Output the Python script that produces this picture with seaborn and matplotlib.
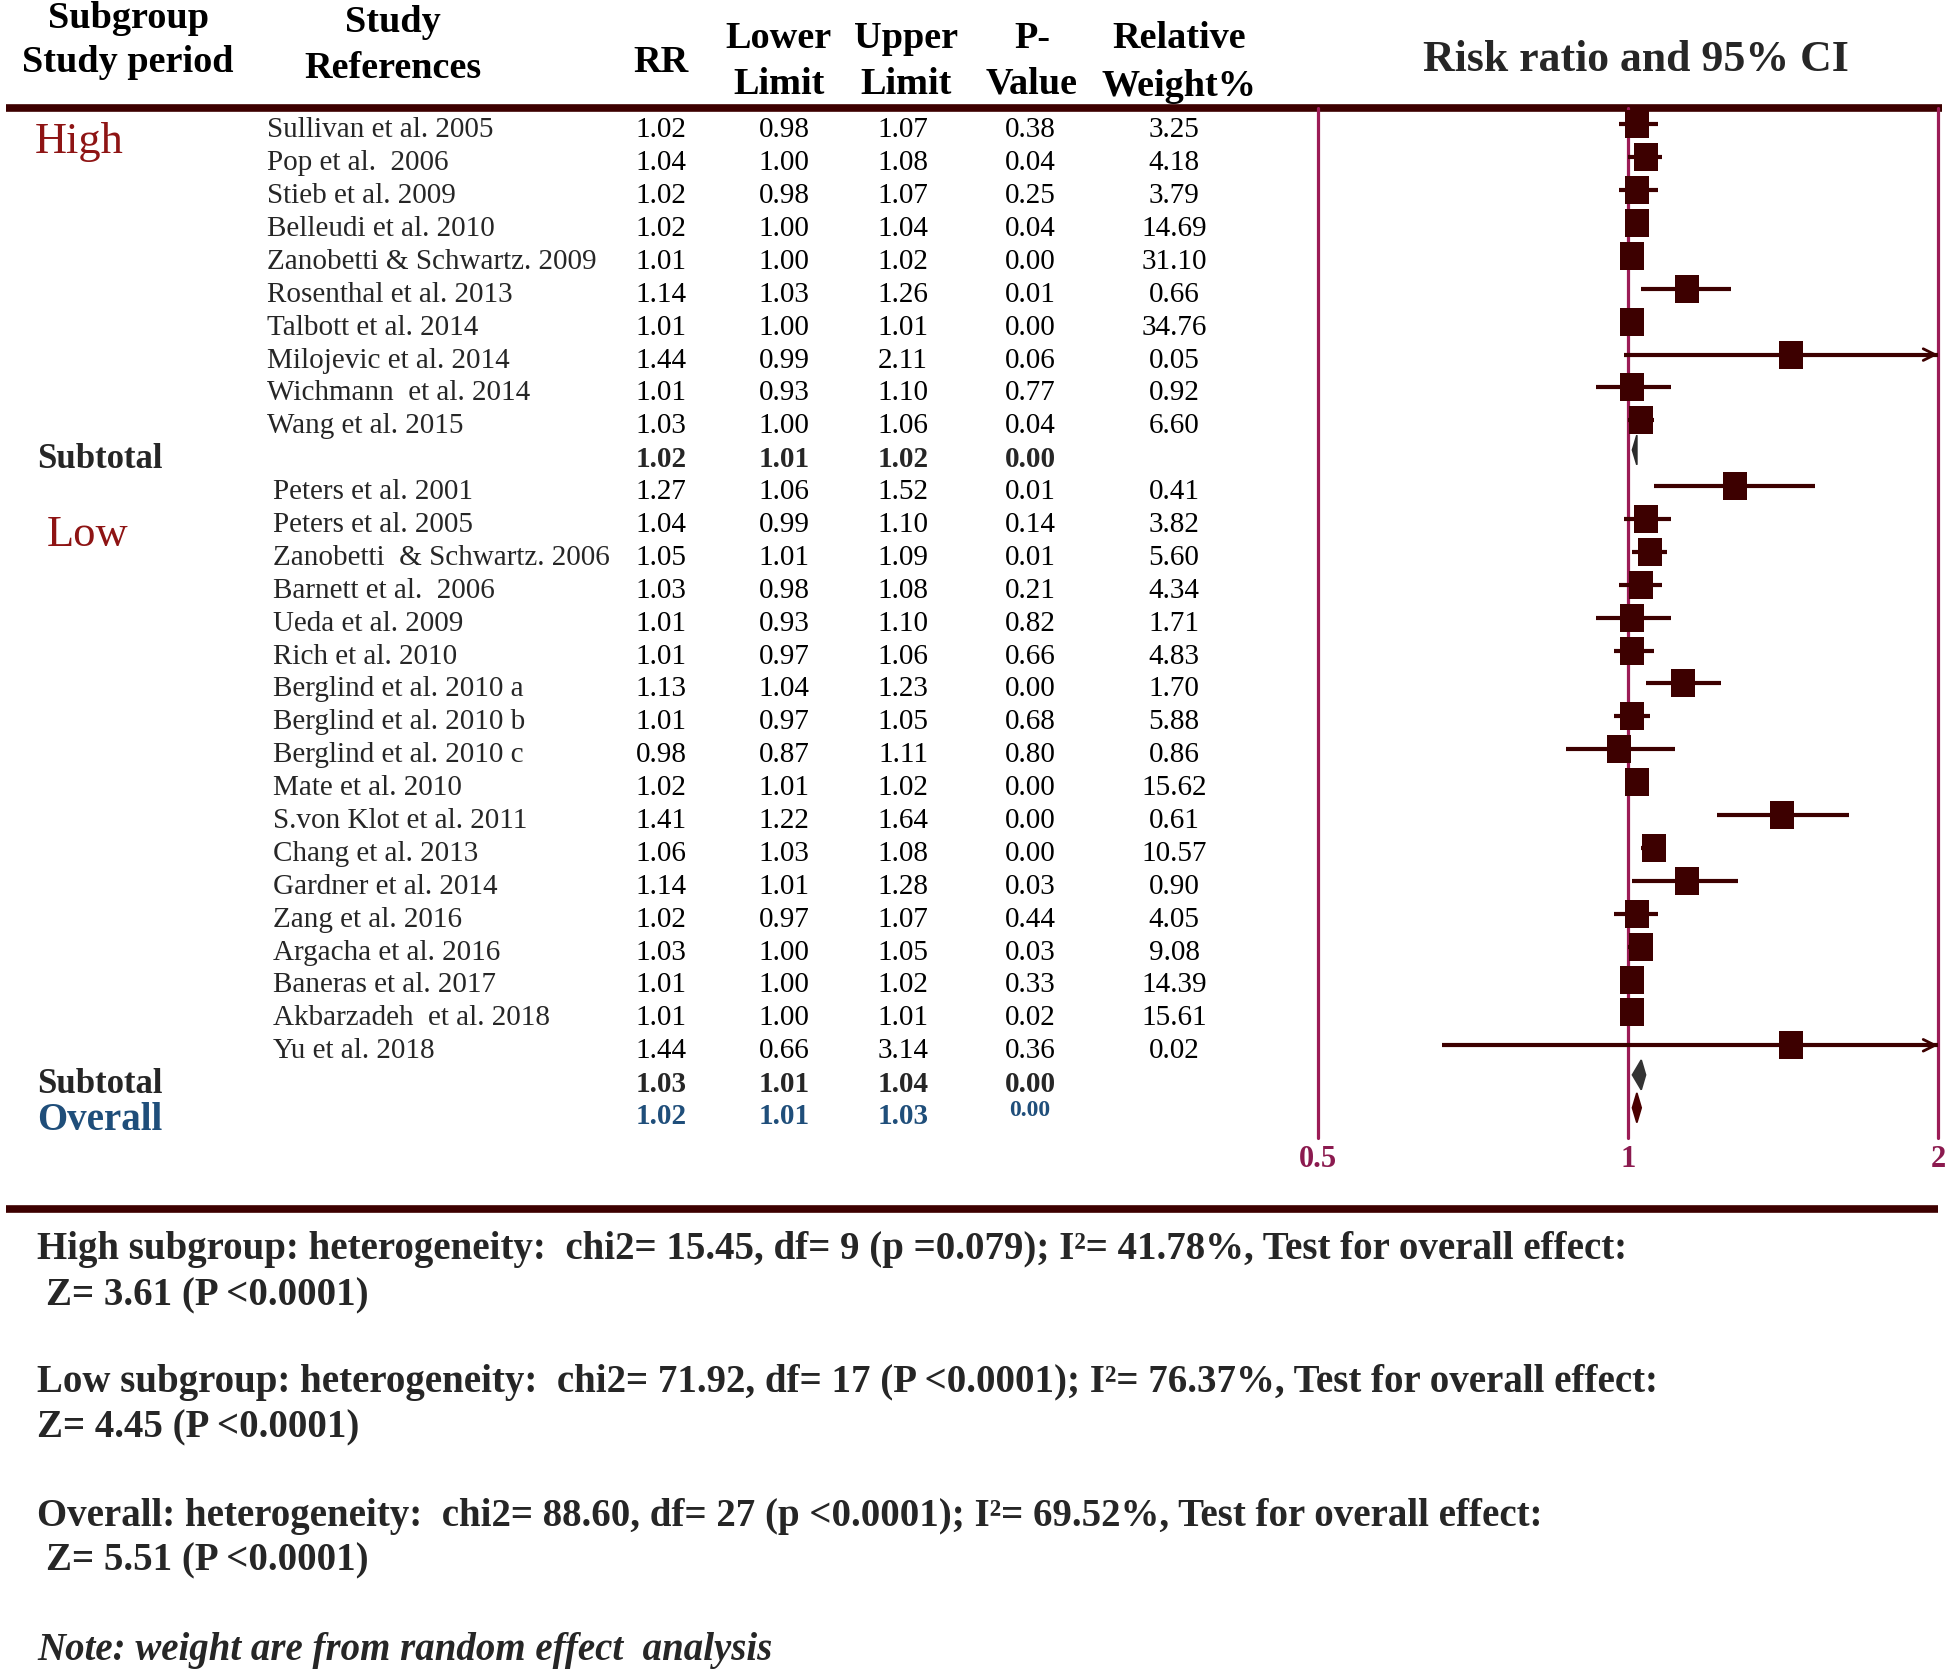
import numpy as np
import pandas as pd
import matplotlib
matplotlib.use("Agg")
import matplotlib.pyplot as plt
import seaborn as sns

# ---- values ----
high_refs = ["Sullivan et al. 2005", "Pop et al.  2006", "Stieb et al. 2009", "Belleudi et al. 2010",
             "Zanobetti & Schwartz. 2009", "Rosenthal et al. 2013", "Talbott et al. 2014",
             "Milojevic et al. 2014", "Wichmann  et al. 2014", "Wang et al. 2015"]
high_rr = [1.02, 1.04, 1.02, 1.02, 1.01, 1.14, 1.01, 1.44, 1.01, 1.03]
high_lo = [0.98, 1.00, 0.98, 1.00, 1.00, 1.03, 1.00, 0.99, 0.93, 1.00]
high_hi = [1.07, 1.08, 1.07, 1.04, 1.02, 1.26, 1.01, 2.11, 1.10, 1.06]
high_p = [0.38, 0.04, 0.25, 0.04, 0.00, 0.01, 0.00, 0.06, 0.77, 0.04]
high_w = [3.25, 4.18, 3.79, 14.69, 31.10, 0.66, 34.76, 0.05, 0.92, 6.60]

low_refs = ["Peters et al. 2001", "Peters et al. 2005", "Zanobetti  & Schwartz. 2006", "Barnett et al.  2006",
            "Ueda et al. 2009", "Rich et al. 2010", "Berglind et al. 2010 a", "Berglind et al. 2010 b",
            "Berglind et al. 2010 c", "Mate et al. 2010", "S.von Klot et al. 2011", "Chang et al. 2013",
            "Gardner et al. 2014", "Zang et al. 2016", "Argacha et al. 2016", "Baneras et al. 2017",
            "Akbarzadeh  et al. 2018", "Yu et al. 2018"]
low_rr = [1.27, 1.04, 1.05, 1.03, 1.01, 1.01, 1.13, 1.01, 0.98, 1.02, 1.41, 1.06, 1.14, 1.02, 1.03, 1.01, 1.01, 1.44]
low_lo = [1.06, 0.99, 1.01, 0.98, 0.93, 0.97, 1.04, 0.97, 0.87, 1.01, 1.22, 1.03, 1.01, 0.97, 1.00, 1.00, 1.00, 0.66]
low_hi = [1.52, 1.10, 1.09, 1.08, 1.10, 1.06, 1.23, 1.05, 1.11, 1.02, 1.64, 1.08, 1.28, 1.07, 1.05, 1.02, 1.01, 3.14]
low_p = [0.01, 0.14, 0.01, 0.21, 0.82, 0.66, 0.00, 0.68, 0.80, 0.00, 0.00, 0.00, 0.03, 0.44, 0.03, 0.33, 0.02, 0.36]
low_w = [0.41, 3.82, 5.60, 4.34, 1.71, 4.83, 1.70, 5.88, 0.86, 15.62, 0.61, 10.57, 0.90, 4.05, 9.08, 14.39, 15.61, 0.02]

# summary rows: rr, lower, upper, p
high_sub = [1.02, 1.01, 1.02, 0.00]
low_sub = [1.03, 1.01, 1.04, 0.00]
overall = [1.02, 1.01, 1.03, 0.00]

xticks = [0.5, 1, 2]
xtick_labels = ["0.5", "1", "2"]

notes = [
    ("High subgroup: heterogeneity:  chi2= 15.45, df= 9 (p =0.079); I²= 41.78%, Test for overall effect:", 37, 1250),
    ("Z= 3.61 (P <0.0001)", 46, 1296),
    ("Low subgroup: heterogeneity:  chi2= 71.92, df= 17 (P <0.0001); I²= 76.37%, Test for overall effect:", 37, 1383),
    ("Z= 4.45 (P <0.0001)", 37, 1428),
    ("Overall: heterogeneity:  chi2= 88.60, df= 27 (p <0.0001); I²= 69.52%, Test for overall effect:", 37, 1517),
    ("Z= 5.51 (P <0.0001)", 46, 1561),
]

# ---- table frame ----
high = pd.DataFrame({"ref": high_refs, "rr": high_rr, "lo": high_lo, "hi": high_hi, "p": high_p, "w": high_w})
high["row"] = np.arange(len(high))
low = pd.DataFrame({"ref": low_refs, "rr": low_rr, "lo": low_lo, "hi": low_hi, "p": low_p, "w": low_w})
low["row"] = np.arange(len(low)) + len(high) + 1
studies = pd.concat([high, low], ignore_index=True)
sub_high_row = len(high)
sub_low_row = low["row"].max() + 1
overall_row = sub_low_row + 1

MAROON = "#3d0000"
LINE = "#9c1c56"
RED = "#8e1414"
BLUE = "#1f4e7a"

sns.set_theme(style="white")
plt.rcParams["font.family"] = ["Liberation Serif", "DejaVu Serif"]

W, H = 1946, 1674
fig = plt.figure(figsize=(W / 100, H / 100), dpi=100)

Y0, STEP = 130.3, 32.89   # pixel of row 0 and row spacing


def row_of(p):
    return (p - Y0) / STEP


ax_t = fig.add_axes([0, 0, 1, 1])
ax_t.set_xlim(0, W)
ax_t.set_ylim(row_of(H), row_of(0))
ax_t.axis("off")

fx0, fx1, fy0, fy1 = 1318, 1938, 109, 1139
ax_f = fig.add_axes([fx0 / W, 1 - fy1 / H, (fx1 - fx0) / W, (fy1 - fy0) / H])
ax_f.set_xscale("log")
ax_f.patch.set_alpha(0)

# headers
hdr = dict(ha="center", va="center", fontsize=27.5, fontweight="bold", color="black")
for txt, x, y in [("Subgroup", 128, 19), ("Study period", 128, 62), ("Study", 393, 22),
                  ("References", 393, 68), ("RR", 661, 62), ("Lower", 779, 38), ("Limit", 779, 84),
                  ("Upper", 906, 38), ("Limit", 906, 84), ("P-", 1032, 38), ("Value", 1032, 84),
                  ("Relative", 1179, 38), ("Weight%", 1179, 87)]:
    ax_t.text(x, row_of(y), txt, **hdr)
ax_t.text(1636, row_of(60), "Risk ratio and 95% CI", ha="center", va="center", fontsize=31.5, fontweight="bold")

# thick rules
ax_t.plot([6, 1942], [row_of(109)] * 2, color=MAROON, lw=5.5, solid_capstyle="butt")
ax_t.plot([6, 1938], [row_of(1210)] * 2, color=MAROON, lw=5.5, solid_capstyle="butt")

# subgroup labels
ax_t.text(35, 0.35, "High", fontsize=32, color=RED, va="center")
ax_t.text(47, 12.3, "Low", fontsize=32, color=RED, va="center")

cols = [("rr", 661), ("lo", 784), ("hi", 903), ("p", 1030), ("w", 1174)]
body = dict(ha="center", va="center", fontsize=21, color="black")
for _, s in studies.iterrows():
    xname = 267 if s["row"] < len(high) else 273
    ax_t.text(xname, s["row"], s["ref"], ha="left", va="center", fontsize=21)
    for key, x in cols:
        ax_t.text(x, s["row"], f"{s[key]:.2f}", **body)

for vals, r in [(high_sub, sub_high_row), (low_sub, sub_low_row)]:
    ax_t.text(37, r, "Subtotal", fontsize=25, fontweight="bold", va="center")
    for v, (_, x) in zip(vals, cols):
        ax_t.text(x, r, f"{v:.2f}", ha="center", va="center", fontsize=21, fontweight="bold")

ax_t.text(37, overall_row + 0.1, "Overall", fontsize=28, fontweight="bold", color=BLUE, va="center")
for v, (_, x) in zip(overall[:3], cols):
    ax_t.text(x, overall_row, f"{v:.2f}", ha="center", va="center", fontsize=21,
              fontweight="bold", color=BLUE)
ax_t.text(cols[3][1], overall_row - 0.2, f"{overall[3]:.2f}", ha="center", va="center",
          fontsize=17, fontweight="bold", color=BLUE)

# notes
for txt, x, y in notes:
    ax_t.text(x, row_of(y), txt, fontsize=28, fontweight="bold", va="center")
ax_t.text(37, row_of(1651), "Note: weight are from random effect  analysis", fontsize=28,
          fontweight="bold", fontstyle="italic", va="center")

# ---- forest panel ----
for v in xticks:
    ax_f.axvline(v, color=LINE, lw=2.3, clip_on=False, zorder=1)

off = -0.15
studies["y"] = studies["row"] + off
studies["hi_c"] = studies["hi"].clip(upper=2)
studies["lo_c"] = studies["lo"].clip(lower=0.5)
ax_f.hlines(studies["y"], studies["lo_c"], studies["hi_c"], color=MAROON, lw=3, zorder=2)
for _, s in studies[studies["hi"] > 2].iterrows():
    ax_f.annotate("", xy=(2, s["y"]), xytext=(s["rr"], s["y"]),
                  arrowprops=dict(arrowstyle="->,head_length=0.7,head_width=0.35", color=MAROON,
                                  lw=2, shrinkA=0, shrinkB=0), zorder=2)

box = [(-0.85, -1), (0.85, -1), (0.85, 1), (-0.85, 1), (-0.85, -1)]
sns.scatterplot(data=studies, x="rr", y="y", marker=box, s=400, color=MAROON,
                edgecolor=MAROON, linewidth=0, legend=False, ax=ax_f, zorder=3)

for vals, r, c in [(high_sub, sub_high_row, "#2b2b2b"), (low_sub, sub_low_row, "#333333"),
                   (overall, overall_row, "#4a0000")]:
    rr, lo, hi = vals[0], vals[1], vals[2]
    yc = r - 0.25
    ax_f.fill([lo, rr, hi, rr], [yc, yc - 0.45, yc, yc + 0.45], color=c, lw=1.2, zorder=3)

ax_f.set_xlim(0.5, 2)
ax_f.set_ylim(row_of(fy1), row_of(fy0))
ax_f.axis("off")
for v, lab in zip(xticks, xtick_labels):
    ax_f.text(v, row_of(1160), lab, ha="center", va="center", fontsize=22,
              fontweight="bold", color="#8b1a4f", clip_on=False)

fig.savefig("out.png", dpi=100)
